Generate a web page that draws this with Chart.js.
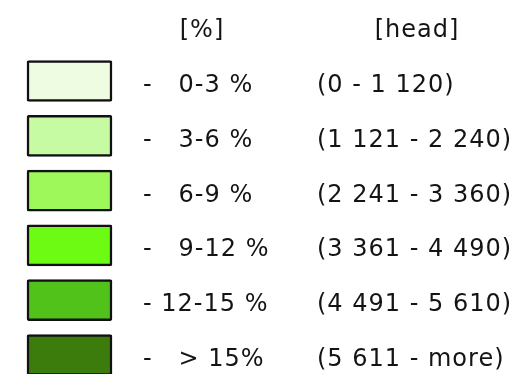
<!DOCTYPE html>
<html>
<head>
<meta charset="utf-8">
<script src="https://cdn.jsdelivr.net/npm/chart.js@4/dist/chart.umd.min.js"></script>
<style>
  html, body { margin: 0; padding: 0; background: #fff; }
  canvas { display: block; }
</style>
</head>
<body>
<canvas id="legend" width="520" height="374"></canvas>
<script>
// class labels (share of herd) and matching head counts
const pctLabels = ['-   0-3 %', '-   3-6 %', '-   6-9 %', '-   9-12 %', '- 12-15 %', '-   > 15%']
const headRanges = ['(0 - 1 120)', '(1 121 - 2 240)', '(2 241 - 3 360)', '(3 361 - 4 490)', '(4 491 - 5 610)', '(5 611 - more)']
const classColors = ['#eefce2', '#c6fba3', '#9ff85a', '#6dfb13', '#50c219', '#3c7c0c']
// every swatch spans the same unit along x
const swatchSpan = [[0, 1], [0, 1], [0, 1], [0, 1], [0, 1], [0, 1]]
const headers = ['[%]', '[head]']

const FONT = '24px "DejaVu Sans", Verdana, sans-serif'

// text columns drawn next to each swatch row
const legendText = {
    id: 'legendText',
    afterDatasetsDraw(chart) {
        const ctx = chart.ctx
        const yScale = chart.scales.y
        ctx.save()
        ctx.font = FONT
        ctx.fillStyle = '#141414'
        if ('letterSpacing' in ctx) ctx.letterSpacing = '1px'
        ctx.textBaseline = 'alphabetic'

        // column titles
        ctx.textAlign = 'center'
        ctx.fillText(headers[0], 202, 37)
        ctx.fillText(headers[1], 417, 37)

        ctx.textAlign = 'left'
        for (let i = 0; i < pctLabels.length; i++) {
            let y = yScale.getPixelForValue(i) + 11
            ctx.fillText(pctLabels[i], 143, y)
            ctx.fillText(headRanges[i], 317, y)
        }
        ctx.restore()
    }
}

const config = {
    type: 'bar',
    data: {
        labels: pctLabels,
        datasets: [{
            data: swatchSpan,
            backgroundColor: classColors,
            borderColor: '#111',
            borderWidth: 2.5,
            borderSkipped: false,
            borderRadius: 2,
            barThickness: 41,
            clip: false
        }]
    },
    options: {
        indexAxis: 'y',
        responsive: false,
        animation: false,
        layout: { padding: { left: 27, right: 408, top: 81, bottom: 19 } },
        scales: {
            x: { type: 'linear', min: 0, max: 1, display: false },
            y: { type: 'category', offset: false, display: false }
        },
        plugins: {
            legend: { display: false },
            tooltip: { enabled: false }
        }
    },
    plugins: [legendText]
}

new Chart(document.getElementById('legend'), config)
</script>
</body>
</html>
